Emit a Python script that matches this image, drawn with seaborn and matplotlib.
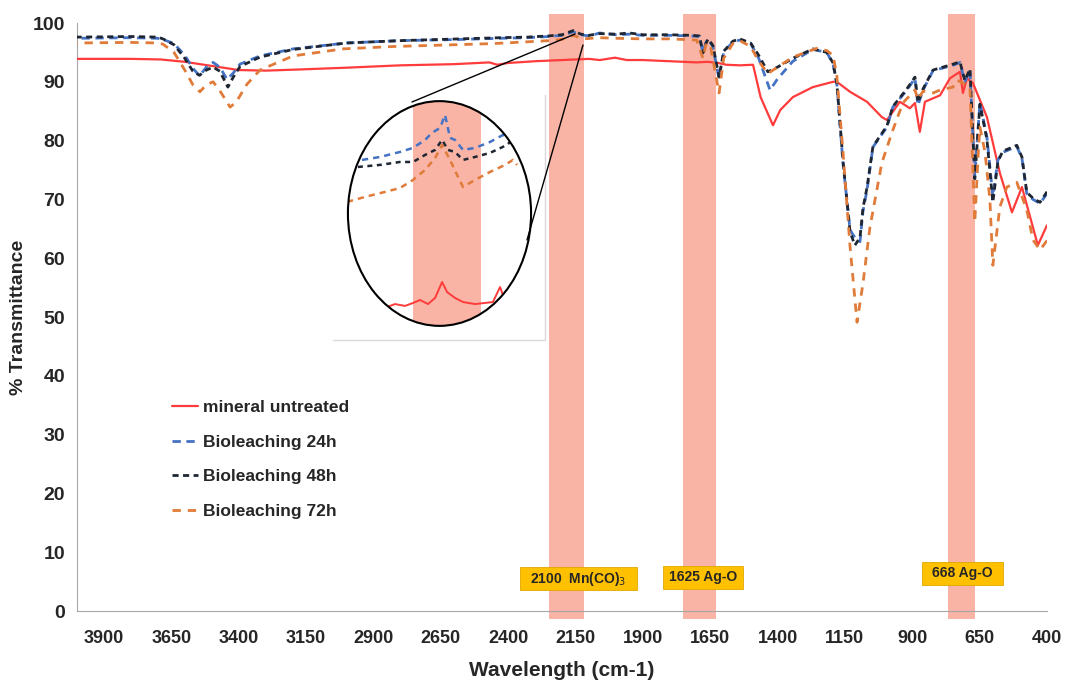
import numpy as np
import pandas as pd
import seaborn as sns
import matplotlib.pyplot as plt
from matplotlib.patches import Rectangle, Ellipse
from matplotlib.lines import Line2D

# --- data (wavenumber cm-1, % transmittance) ---
wn_red = [4000, 3800, 3690, 3600, 3500, 3400, 3300, 3172, 3000, 2800, 2600, 2470, 2440, 2400,
          2300, 2200, 2150, 2100, 2060, 2003, 1960, 1900, 1800, 1700, 1660, 1620, 1590, 1540,
          1491, 1463, 1417, 1390, 1343, 1269, 1194, 1180, 1131, 1068, 1013, 994, 946, 909,
          890, 872, 853, 797, 760, 723, 712, 697, 675, 623, 575, 530, 493, 434, 400]
t_red = [93.9, 93.9, 93.8, 93.4, 92.7, 92.0, 91.9, 92.1, 92.4, 92.8, 93.0, 93.3, 92.9, 93.2,
         93.5, 93.7, 93.8, 93.9, 93.7, 94.1, 93.7, 93.7, 93.5, 93.3, 93.4, 93.2, 92.9, 92.8,
         92.9, 87.4, 82.6, 85.2, 87.4, 89.1, 90.0, 90.0, 88.3, 86.6, 84.0, 83.5, 86.6, 85.5,
         86.4, 81.5, 86.6, 87.7, 90.6, 91.7, 88.1, 90.6, 89.8, 84.0, 74.5, 67.8, 72.1, 62.2, 65.6]

wn_24 = [4000, 3800, 3700, 3681, 3640, 3600, 3570, 3545, 3520, 3495, 3470, 3443, 3420, 3395,
         3321, 3198, 3000, 2800, 2579, 2430, 2330, 2250, 2200, 2159, 2130, 2100, 2060, 2000,
         1950, 1900, 1800, 1720, 1690, 1677, 1665, 1658, 1640, 1617, 1600, 1566, 1540, 1500,
         1470, 1428, 1400, 1343, 1269, 1217, 1194, 1180, 1157, 1131, 1113, 1094, 1083, 1068,
         1046, 994, 972, 920, 890, 879, 860, 823, 749, 723, 705, 686, 668, 649, 623, 601, 582,
         564, 512, 493, 475, 452, 426, 400]
t_24 = [97.4, 97.5, 97.4, 97.2, 96.5, 94.5, 92.3, 91.0, 92.5, 93.3, 92.5, 90.4, 91.5, 93.0,
        94.4, 95.6, 96.6, 97.0, 97.2, 97.4, 97.5, 97.7, 97.9, 98.5, 98.0, 97.8, 98.3, 98.0,
        98.1, 97.9, 97.9, 97.8, 97.7, 95.0, 96.8, 97.2, 96.0, 90.5, 95.0, 96.8, 97.1, 96.5,
        94.0, 88.6, 90.5, 93.5, 95.5, 95.0, 93.0, 89.6, 76.1, 64.8, 63.5, 62.8, 68.0, 71.6,
        78.9, 82.3, 85.7, 88.6, 90.6, 86.0, 88.6, 91.9, 92.8, 93.3, 90.0, 92.0, 74.0, 86.4,
        80.6, 70.5, 76.7, 78.0, 79.0, 77.0, 71.0, 70.0, 69.3, 71.0]

wn_48 = [4000, 3800, 3700, 3681, 3640, 3600, 3570, 3545, 3520, 3495, 3470, 3440, 3420, 3395,
         3321, 3198, 3000, 2800, 2579, 2430, 2330, 2250, 2200, 2159, 2130, 2100, 2060, 2000,
         1950, 1900, 1800, 1720, 1690, 1677, 1665, 1658, 1640, 1617, 1600, 1566, 1540, 1500,
         1470, 1436, 1400, 1343, 1269, 1217, 1194, 1180, 1157, 1131, 1113, 1094, 1083, 1068,
         1046, 994, 972, 920, 890, 879, 860, 823, 749, 723, 705, 686, 668, 649, 623, 601, 582,
         564, 512, 493, 475, 452, 426, 400]
t_48 = [97.6, 97.7, 97.6, 97.3, 96.3, 94.0, 91.8, 91.1, 92.0, 92.5, 91.8, 89.1, 90.8, 92.6,
        94.2, 95.5, 96.6, 97.0, 97.3, 97.5, 97.6, 97.8, 98.0, 98.7, 98.1, 97.9, 98.2, 98.1,
        98.3, 98.0, 98.0, 97.9, 97.8, 94.9, 96.6, 97.3, 96.2, 90.8, 95.2, 96.9, 97.3, 96.6,
        94.5, 91.7, 92.5, 94.0, 95.6, 95.0, 93.2, 89.8, 76.5, 64.5, 62.2, 63.5, 68.5, 72.0,
        79.0, 82.5, 85.8, 88.8, 90.8, 86.5, 88.8, 92.0, 93.0, 93.4, 90.2, 92.2, 73.5, 86.2,
        80.2, 69.5, 76.5, 78.2, 79.2, 77.2, 71.2, 70.2, 69.5, 71.3]

wn_72 = [4000, 3800, 3700, 3681, 3640, 3600, 3570, 3544, 3520, 3495, 3470, 3432, 3410, 3369,
         3321, 3198, 3013, 2827, 2600, 2456, 2330, 2250, 2200, 2159, 2120, 2060, 2000, 1900,
         1800, 1700, 1677, 1665, 1650, 1617, 1600, 1566, 1540, 1500, 1470, 1436, 1400, 1343,
         1254, 1217, 1194, 1180, 1157, 1131, 1105, 1083, 1057, 1013, 976, 935, 890, 879, 860,
         823, 797, 749, 734, 700, 686, 668, 655, 649, 630, 612, 601, 575, 549, 512, 475, 452,
         426, 400]
t_72 = [96.6, 96.7, 96.6, 96.4, 95.0, 92.0, 89.5, 88.3, 89.5, 90.0, 88.5, 85.7, 86.5, 89.6,
        92.0, 94.4, 95.6, 96.0, 96.3, 96.5, 96.8, 97.0, 97.2, 97.9, 97.3, 97.5, 97.4, 97.3,
        97.3, 97.1, 94.0, 96.5, 96.3, 88.1, 94.0, 96.5, 97.0, 96.0, 93.5, 91.4, 92.5, 94.2,
        95.7, 95.3, 94.5, 91.0, 78.0, 62.0, 49.1, 55.7, 65.3, 76.2, 81.3, 86.4, 88.6, 87.0,
        88.4, 88.1, 88.6, 89.1, 90.3, 89.5, 89.0, 66.1, 78.0, 82.3, 78.0, 70.0, 58.8, 68.7,
        72.1, 72.9, 68.2, 63.1, 61.4, 63.0]

# zoomed inset (relative units inside the circle)
ins_u_24 = [8.1, 17.8, 28.6, 35.7, 42.2, 45.9, 50.3, 53.0, 55.7, 58.4, 62.7, 69.2, 77.3, 84.3, 88.1]
ins_v_24 = [73.6, 74.9, 77.1, 78.9, 82.4, 85.5, 87.7, 93.4, 83.3, 82.4, 78.0, 78.9, 81.5, 84.6, 83.7]
ins_u_48 = [5.9, 17.8, 28.6, 35.7, 42.2, 47.6, 51.4, 54.6, 58.4, 62.7, 69.2, 77.3, 86.5, 89.2]
ins_v_48 = [70.5, 71.4, 72.7, 72.7, 75.8, 78.0, 82.4, 78.0, 77.1, 73.6, 74.9, 76.7, 80.2, 82.4]
ins_u_72 = [0.0, 9.7, 20.5, 28.6, 35.7, 42.2, 47.6, 51.4, 55.7, 59.5, 62.7, 69.2, 77.3, 85.4, 89.7, 91.9]
ins_v_72 = [55.1, 57.3, 59.5, 61.2, 64.8, 69.2, 74.4, 80.2, 73.6, 67.0, 61.7, 64.8, 68.3, 71.4, 73.6, 71.4]
ins_u_red = [21.6, 25.9, 31.4, 35.7, 39.5, 43.8, 47.6, 51.4, 54.1, 58.4, 62.7, 69.2, 74.6, 78.9, 82.7, 84.3, 86.5]
ins_v_red = [8.8, 10.1, 9.3, 10.6, 11.9, 10.1, 12.8, 19.8, 15.4, 12.8, 11.0, 10.1, 10.6, 11.0, 17.6, 14.1, 15.4]

bands = [(2247, 2120), (1751, 1629), (768, 668)]
band_labels = ['2100  Mn(CO)$_3$', '1625 Ag-O', '668 Ag-O']

sns.set_style('white')
plt.rcParams['font.family'] = ['Liberation Sans', 'DejaVu Sans']

c_red, c_blue, c_black, c_orange = '#FF3B3B', '#4472C4', '#1F2633', '#E07B39'
band_col = '#F9B4A6'

fig = plt.figure(figsize=(10.65, 6.84), dpi=100)
ax = fig.add_axes([77 / 1065, 1 - 611 / 684, 970 / 1065, 588 / 684])

for lo, hi in bands:
    ax.add_patch(Rectangle((lo, -1.4), hi - lo, 102.9, facecolor=band_col, edgecolor='none',
                           clip_on=False, zorder=0))

sns.lineplot(x=wn_red, y=t_red, ax=ax, color=c_red, linewidth=1.6, estimator=None,
             label='mineral untreated', zorder=3)
sns.lineplot(x=wn_24, y=t_24, ax=ax, color=c_blue, linewidth=2, estimator=None,
             linestyle=(0, (3, 2)), label='Bioleaching 24h', zorder=3)
sns.lineplot(x=wn_48, y=t_48, ax=ax, color=c_black, linewidth=2, estimator=None,
             linestyle=(0, (2.2, 1.6)), label='Bioleaching 48h', zorder=3)
sns.lineplot(x=wn_72, y=t_72, ax=ax, color=c_orange, linewidth=2, estimator=None,
             linestyle=(0, (3, 2.5)), label='Bioleaching 72h', zorder=3)

ax.set_xlim(4000, 400)
ax.set_ylim(0, 100)
ax.set_xticks(np.arange(3900, 399, -250))
ax.set_xticks(np.arange(4000, 399, -50), minor=True)
ax.set_yticks(np.arange(0, 101, 10))
ax.set_yticks(np.arange(0, 101, 2), minor=True)
for s in ['top', 'right']:
    ax.spines[s].set_visible(False)
for s in ['left', 'bottom']:
    ax.spines[s].set_color('#a6a6a6')
ax.tick_params(axis='x', which='both', direction='in', color='#a6a6a6', length=5, pad=14,
               labelsize=13)
ax.tick_params(axis='x', which='minor', length=4)
ax.tick_params(axis='y', which='major', direction='out', color='#a6a6a6', length=5, labelsize=14)
ax.tick_params(axis='y', which='minor', direction='in', color='#a6a6a6', length=3)
for lab in ax.get_xticklabels() + ax.get_yticklabels():
    lab.set_fontweight('bold')
ax.set_xlabel('Wavelength (cm-1)', fontsize=15, fontweight='bold', labelpad=10)
ax.set_ylabel('% Transmittance', fontsize=14, fontweight='bold', labelpad=4)

# gold annotation boxes
boxes = [((2356, 3.5), 1922, 7.4), ((1825, 3.8), 1528, 7.6), ((864, 4.5), 564, 8.4)]
for ((x0, y0), x1, y1), txt in zip(boxes, band_labels):
    ax.add_patch(Rectangle((x0, y0), x1 - x0, y1 - y0, facecolor='#FFC000', edgecolor='#e0a800',
                           linewidth=0.6, zorder=4))
    ax.text((x0 + x1) / 2, (y0 + y1) / 2, txt, ha='center', va='center', fontsize=10,
            fontweight='bold', zorder=5)

leg = ax.legend(loc='upper left', bbox_to_anchor=(165 / 1065, 1 - 393 / 684),
                bbox_transform=fig.transFigure, frameon=False, fontsize=12.5,
                handlelength=1.5, handletextpad=0.3, labelspacing=1.12, borderaxespad=0)
for t in leg.get_texts():
    t.set_fontweight('bold')

# zoom inset
fig.add_artist(Line2D([333 / 1065, 545 / 1065], [1 - 340 / 684, 1 - 340 / 684],
                      transform=fig.transFigure, color='#d9d9d9', linewidth=1))
fig.add_artist(Line2D([545 / 1065, 545 / 1065], [1 - 95 / 684, 1 - 340 / 684],
                      transform=fig.transFigure, color='#d9d9d9', linewidth=1))
iax = fig.add_axes([347 / 1065, 1 - 327 / 684, 185 / 1065, 227 / 684])
iax.set_xlim(0, 100)
iax.set_ylim(0, 100)
iax.axis('off')
iax.add_patch(Ellipse((50, 50), 99, 99, facecolor='white', edgecolor='none', zorder=1,
                      clip_on=False))
clip = Ellipse((50, 50), 99, 99, transform=iax.transData)
band = Rectangle((35.7, 0), 36.7, 100, facecolor=band_col, edgecolor='none', zorder=2)
iax.add_patch(band)
band.set_clip_path(clip)
for u, v, col, ls, lw in [(ins_u_24, ins_v_24, c_blue, (0, (2.5, 2)), 1.8),
                          (ins_u_48, ins_v_48, c_black, (0, (2, 1.8)), 1.8),
                          (ins_u_72, ins_v_72, c_orange, (0, (2.5, 2)), 1.8),
                          (ins_u_red, ins_v_red, c_red, '-', 1.4)]:
    ln, = iax.plot(u, v, color=col, linestyle=ls, linewidth=lw, zorder=3)
    ln.set_clip_path(clip)
iax.add_patch(Ellipse((50, 50), 99, 99, facecolor='none', edgecolor='black', linewidth=1.5,
                      zorder=4, clip_on=False))

fig.add_artist(Line2D([412 / 1065, 575 / 1065], [1 - 102 / 684, 1 - 34 / 684],
                      transform=fig.transFigure, color='black', linewidth=1))
fig.add_artist(Line2D([527 / 1065, 583 / 1065], [1 - 240 / 684, 1 - 45 / 684],
                      transform=fig.transFigure, color='black', linewidth=1))

fig.savefig('out.png', dpi=100)
